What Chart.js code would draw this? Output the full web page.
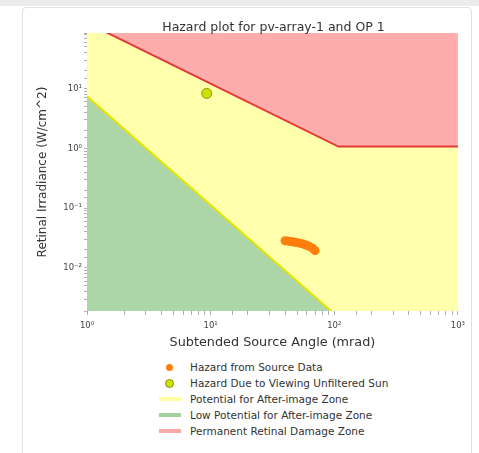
<!DOCTYPE html>
<html>
<head>
<meta charset="utf-8">
<script src="https://cdn.jsdelivr.net/npm/chart.js@4.4.1/dist/chart.umd.min.js"></script>
<style>
  body { margin: 0; background: #fff; font-family: "DejaVu Sans", sans-serif; }
  #topbar { position: absolute; left: 0; top: 0; width: 479px; height: 6px; background: #ececec; }
  #card { position: absolute; left: 22px; top: 7px; width: 450px; height: 452px; box-sizing: border-box;
          border: 1px solid #e0e0e0; border-radius: 4px; background: #fff; }
  #wrap { position: absolute; left: 0; top: 0; width: 448px; height: 347px; }
  #title { position: absolute; left: 64px; top: 11px; width: 373px; text-align: center;
           font-size: 12.5px; line-height: 16px; color: #333; white-space: nowrap; }
  #legend { position: absolute; left: 136px; top: 351px; font-size: 10.5px; color: #333; }
  .row { display: flex; align-items: center; height: 16px; }
  .mk { width: 22px; height: 16px; position: relative; margin-right: 9px; }
  .mk span { position: absolute; }
</style>
</head>
<body>
<div id="topbar"></div>
<div id="card">
  <div id="wrap"><canvas id="hazardChart" width="448" height="347"></canvas></div>
  <div id="title">Hazard plot for pv-array-1 and OP 1</div>
  <div id="legend"></div>
</div>
<script>
// values
const sourceAngle = [40, 42, 44, 46, 48, 50, 53, 56, 59, 62, 65, 68, 70];
const sourceIrradiance = [0.0284, 0.0281, 0.0277, 0.0273, 0.0269, 0.0265, 0.0258, 0.0251, 0.0242, 0.0232, 0.022, 0.0206, 0.0194];
const sunAngle = [9.3];
const sunIrradiance = [8.3];
const burnAngle = [1, 108, 1000];
const burnIrradiance = [126, 1.07, 1.07];
const afterImageAngle = [1, 100];
const afterImageIrradiance = [7.4, 0.0017];
const xRange = [1, 1000];
const yRange = [0.0019, 85];

const legendLabels = [
  "Hazard from Source Data",
  "Hazard Due to Viewing Unfiltered Sun",
  "Potential for After-image Zone",
  "Low Potential for After-image Zone",
  "Permanent Retinal Damage Zone",
];

const toPoints = (xs, ys) => xs.map((x, i) => ({ x: x, y: ys[i] }));

const sup = { "0": "⁰", "1": "¹", "2": "²", "3": "³", "-": "⁻" };
function isDecade(v) {
  const e = Math.log10(v);
  return Math.abs(e - Math.round(e)) < 1e-6;
}
function powerLabel(v) {
  if (!isDecade(v)) return "";
  return "10" + String(Math.round(Math.log10(v))).split("").map((c) => sup[c]).join("");
}

const tickFont = { family: "DejaVu Sans", size: 8.5 };

new Chart(document.getElementById("hazardChart"), {
  type: "scatter",
  data: {
    datasets: [
      {
        data: toPoints(sourceAngle, sourceIrradiance),
        backgroundColor: "#ff7f0e",
        borderColor: "#ff7f0e",
        pointRadius: 4.5,
        borderWidth: 0,
        order: 0,
      },
      {
        data: toPoints(sunAngle, sunIrradiance),
        backgroundColor: "#cfe000",
        borderColor: "#7f9a10",
        pointRadius: 5,
        borderWidth: 1,
        order: 1,
      },
      {
        // burn threshold line + red zone above it
        data: toPoints(burnAngle, burnIrradiance),
        showLine: true,
        pointRadius: 0,
        borderColor: "#e23a3a",
        borderWidth: 2,
        backgroundColor: "#ffacac",
        fill: "end",
        order: 2,
      },
      {
        // after-image threshold + green zone below it
        data: toPoints(afterImageAngle, afterImageIrradiance),
        showLine: true,
        pointRadius: 0,
        borderColor: "#e4e400",
        borderWidth: 2,
        backgroundColor: "#acd6a8",
        fill: "start",
        order: 3,
      },
      {
        // yellow zone under the burn line
        data: toPoints(burnAngle, burnIrradiance),
        showLine: true,
        pointRadius: 0,
        borderWidth: 0,
        borderColor: "rgba(0,0,0,0)",
        backgroundColor: "#ffffac",
        fill: "start",
        order: 4,
      },
    ],
  },
  options: {
    responsive: false,
    animation: false,
    layout: { padding: { left: 0, right: 11, top: 25, bottom: 0 } },
    plugins: {
      legend: { display: false },
      tooltip: { enabled: false },
    },
    scales: {
      x: {
        type: "logarithmic",
        min: xRange[0],
        max: xRange[1],
        border: { display: false },
        grid: {
          color: "rgba(0,0,0,0)",
          tickColor: "#b0b0b0",
          tickLength: 4,
        },
        ticks: {
          autoSkip: false,
          maxRotation: 0,
          padding: 6,
          color: "#444",
          font: tickFont,
          callback: (v) => powerLabel(v),
        },
        title: {
          display: true,
          text: "Subtended Source Angle (mrad)",
          color: "#333",
          font: { family: "DejaVu Sans", size: 12.8 },
          padding: { top: 0, bottom: 5 },
        },
        afterFit: (s) => { s.height = 44; },
      },
      y: {
        type: "logarithmic",
        min: yRange[0],
        max: yRange[1],
        border: { display: false },
        grid: {
          color: (ctx) => (ctx.tick && isDecade(ctx.tick.value) ? "rgba(0,0,0,0.06)" : "rgba(0,0,0,0)"),
          tickColor: "#b0b0b0",
          tickLength: 3,
        },
        ticks: {
          autoSkip: false,
          padding: 2,
          color: "#444",
          font: tickFont,
          callback: (v) => powerLabel(v),
        },
        title: {
          display: true,
          text: "Retinal Irradiance (W/cm^2)",
          color: "#333",
          font: { family: "DejaVu Sans", size: 12 },
          padding: { top: 13, bottom: 0 },
        },
        afterFit: (s) => { s.width = 64; },
      },
    },
  },
});

// legend under the chart, one entry per row
const markers = [
  '<span style="left:7px;top:4.5px;width:7px;height:7px;border-radius:50%;background:#ff7f0e"></span>',
  '<span style="left:6px;top:3.5px;width:7px;height:7px;border-radius:50%;background:#cfe000;border:1px solid #7f9a10"></span>',
  '<span style="left:0;top:6px;width:22px;height:4px;background:#ffffa0"></span>',
  '<span style="left:0;top:6px;width:22px;height:4px;background:#a2d09e"></span>',
  '<span style="left:0;top:6px;width:22px;height:4px;background:#ffa8a8"></span>',
];
const legendBox = document.getElementById("legend");
legendLabels.forEach((label, i) => {
  legendBox.innerHTML += `<div class="row"><div class="mk">${markers[i]}</div><div>${label}</div></div>`;
});
</script>
</body>
</html>
